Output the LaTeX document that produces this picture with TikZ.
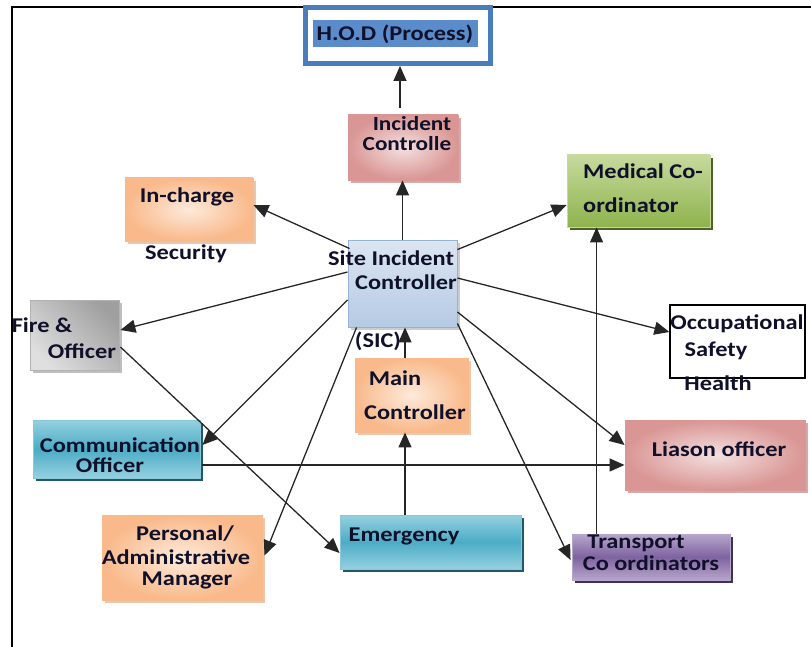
\documentclass[tikz,border=0pt]{standalone}
\usepackage{fontspec}
\setmainfont{Carlito}[FakeStretch=1.16]
\usetikzlibrary{shadows,calc,arrows.meta}
\definecolor{txt}{HTML}{10102A}
\definecolor{linec}{HTML}{262626}
\definecolor{hodb}{HTML}{4A7EBB}
\definecolor{hodhl}{HTML}{5A8CCB}
\definecolor{orA}{HTML}{F9B98A}
\definecolor{orB}{HTML}{FDEADB}
\definecolor{orS}{HTML}{E9C7AE}
\definecolor{tlA}{HTML}{96D0E0}
\definecolor{tlB}{HTML}{4BACC6}
\definecolor{tlS}{HTML}{215968}
\definecolor{puA}{HTML}{B7A6CB}
\definecolor{puB}{HTML}{7F63A1}
\definecolor{puS}{HTML}{3F3151}
\definecolor{grA}{HTML}{C6DA9E}
\definecolor{grB}{HTML}{8FB34C}
\definecolor{grS}{HTML}{4F6228}
\definecolor{pkA}{HTML}{D99694}
\definecolor{pkB}{HTML}{F4E0E0}
\definecolor{pkS}{HTML}{D4A9A8}
\definecolor{sbA}{HTML}{DCE6F2}
\definecolor{sbB}{HTML}{B5CAE4}
\definecolor{sbD}{HTML}{95B3D7}
\begin{document}
\begin{tikzpicture}[x=1pt,y=-1pt,
  font=\fontsize{21}{23}\selectfont\bfseries,
  box/.style={rectangle, draw, inner sep=0pt, line width=0.9pt},
  orangebox/.style={box, draw=orA, inner color=orB, outer color=orA,
     drop shadow={shadow xshift=3pt,shadow yshift=-3pt,fill=orS,opacity=1}},
  tealbox/.style={box, draw=tlA!80!tlB, top color=tlA, bottom color=tlA, middle color=tlB,
     drop shadow={shadow xshift=3pt,shadow yshift=-3pt,fill=tlS,opacity=1}},
  purplebox/.style={box, draw=puA, top color=puA, bottom color=puA, middle color=puB,
     drop shadow={shadow xshift=3pt,shadow yshift=-3pt,fill=puS,opacity=1}},
  greenbox/.style={box, draw=grA, top color=grA, bottom color=grB,
     drop shadow={shadow xshift=3pt,shadow yshift=-3pt,fill=grS,opacity=1}},
  pinkbox/.style={box, draw=pkA, inner color=pkB, outer color=pkA,
     drop shadow={shadow xshift=3pt,shadow yshift=-3pt,fill=pkS,opacity=1}},
  graybox/.style={box, draw=gray!60, left color=gray!25, right color=gray!75, shading angle=135,
     drop shadow={shadow xshift=3pt,shadow yshift=-3pt,fill=gray!50,opacity=1}},
  sicbox/.style={box, draw=sbD, top color=sbA, bottom color=sbB,
     drop shadow={shadow xshift=3pt,shadow yshift=-3pt,fill=gray!40,opacity=1}},
  lbl/.style={anchor=base, inner sep=0pt, text=txt},
  arr/.style={draw=linec, line width=1.3pt, -{Triangle[length=15pt,width=13pt]}}
]
\useasboundingbox (0,0) rectangle (811,647);
% frame
\coordinate (fA) at (12,647);
\coordinate (fB) at (12,7);
\coordinate (fC) at (811,7);
\draw[line width=1.4pt, black] (fA) -- (fB) -- (fC);

% boxes
\node[box, draw=hodb, fill=white, line width=5pt, minimum width=185, minimum height=56] (hod) at (398,35.5) {};
\node[rectangle, fill=hodhl, minimum width=165, minimum height=27, inner sep=0pt] (hodhlt) at (395.5,33.5) {};
\node[pinkbox, minimum width=110, minimum height=65] (inc) at (403,147.5) {};
\node[greenbox, minimum width=143, minimum height=72] (med) at (638.5,191) {};
\node[orangebox, minimum width=128, minimum height=63] (inch) at (189,209.5) {};
\node[sicbox, minimum width=109, minimum height=87] (sic) at (402.5,283.5) {};
\node[graybox, minimum width=89, minimum height=70] (fire) at (74.5,335) {};
\node[box, draw=black, fill=white, line width=1.2pt, minimum width=135, minimum height=73] (occ) at (737.5,341.5) {};
\node[orangebox, minimum width=113, minimum height=74] (main) at (411.5,395) {};
\node[tealbox, minimum width=167, minimum height=58] (comm) at (116.5,449) {};
\node[pinkbox, minimum width=180, minimum height=70] (lia) at (715,455) {};
\node[orangebox, minimum width=160, minimum height=85] (pers) at (182,557.5) {};
\node[tealbox, minimum width=181, minimum height=54] (emer) at (430.5,542) {};
\node[purplebox, minimum width=158, minimum height=46] (trans) at (651,557) {};

% texts
\node[lbl] (t1) at (395,41) {H.O.D (Process)};
\node[lbl, font=\fontsize{20}{22}\selectfont\bfseries] (t2) at (412,131) {Incident};
\node[lbl, font=\fontsize{20}{22}\selectfont\bfseries] (t3) at (407,151) {Controlle};
\node[lbl, anchor=base west] (t4) at (583,179) {Medical Co-};
\node[lbl, anchor=base west] (t5) at (583,212) {ordinator};
\node[lbl] (t6) at (187,203) {In-charge};
\node[lbl] (t7) at (186,259) {Security};
\node[lbl] (t8) at (391,265) {Site Incident};
\node[lbl] (t9) at (406,289) {Controller};
\node[lbl] (t10) at (378,347) {(SIC)};
\node[lbl] (t11) at (42,332) {Fire \&};
\node[lbl] (t12) at (82,358) {Officer};
\node[lbl] (t13) at (737,329) {Occupational};
\node[lbl] (t14) at (716,356) {Safety};
\node[lbl] (t15) at (718,390) {Health};
\node[lbl] (t16) at (395,385) {Main};
\node[lbl] (t17) at (415,419) {Controller};
\node[lbl] (t18) at (120,452) {Communication};
\node[lbl] (t19) at (110,472) {Officer};
\node[lbl] (t20) at (719,456) {Liason officer};
\node[lbl] (t21) at (185,540) {Personal/};
\node[lbl] (t22) at (176,564) {Administrative};
\node[lbl] (t23) at (187,585) {Manager};
\node[lbl] (t24) at (404,541) {Emergency};
\node[lbl] (t25) at (636,548) {Transport};
\node[lbl] (t26) at (651,570) {Co ordinators};

% helper coordinates for straight vertical / horizontal connectors
\coordinate (incTop) at ($(inc.north)+(-3,-7)$);
\coordinate (mainTop) at ($(main.north)+(-6.5,0)$);
\coordinate (emerTop) at ($(emer.north)+(-25.5,0)$);
\coordinate (commOut) at ($(comm.east)+(2,16)$);
\coordinate (transTop) at ($(trans.north west)+(25,0)$);

% connectors
\draw[arr] (incTop) -- (incTop |- hod.south);
\draw[arr] (sic.north) -- (sic.north |- inc.south);
\draw[arr] ($(sic.north west)+(2,9)$) -- ($(inch.east)+(0,-4.5)$);
\draw[arr] ($(sic.north east)+(0,10)$) -- ($(med.west)+(0,14)$);
\draw[arr] ($(sic.west)+(0,-11.5)$) -- ($(fire.east)+(1,-5)$);
\draw[arr] ($(sic.east)+(0,-5.5)$) -- ($(occ.west)+(0,-9.5)$);
\draw[arr] ($(sic.west)+(0,16.5)$) -- ($(comm.east)+(2,-4)$);
\draw[arr] ($(sic.south west)+(9,0)$) -- ($(pers.east)+(2,-2)$);
\draw[arr] ($(sic.east)+(0,28.5)$) -- ($(lia.west)+(0,-10)$);
\draw[arr] ($(sic.south east)+(0,-4)$) -- ($(trans.west)+(-1,3)$);
\draw[arr] (mainTop) -- (mainTop |- sic.south);
\draw[arr] (emerTop) -- (emerTop |- main.south);
\draw[arr] ($(fire.east)+(1,12)$) -- ($(emer.west)+(0,11)$);
\draw[arr] (commOut) -- (commOut -| lia.west);
\draw[arr] (transTop) -- (transTop |- med.south);
\end{tikzpicture}
\end{document}
